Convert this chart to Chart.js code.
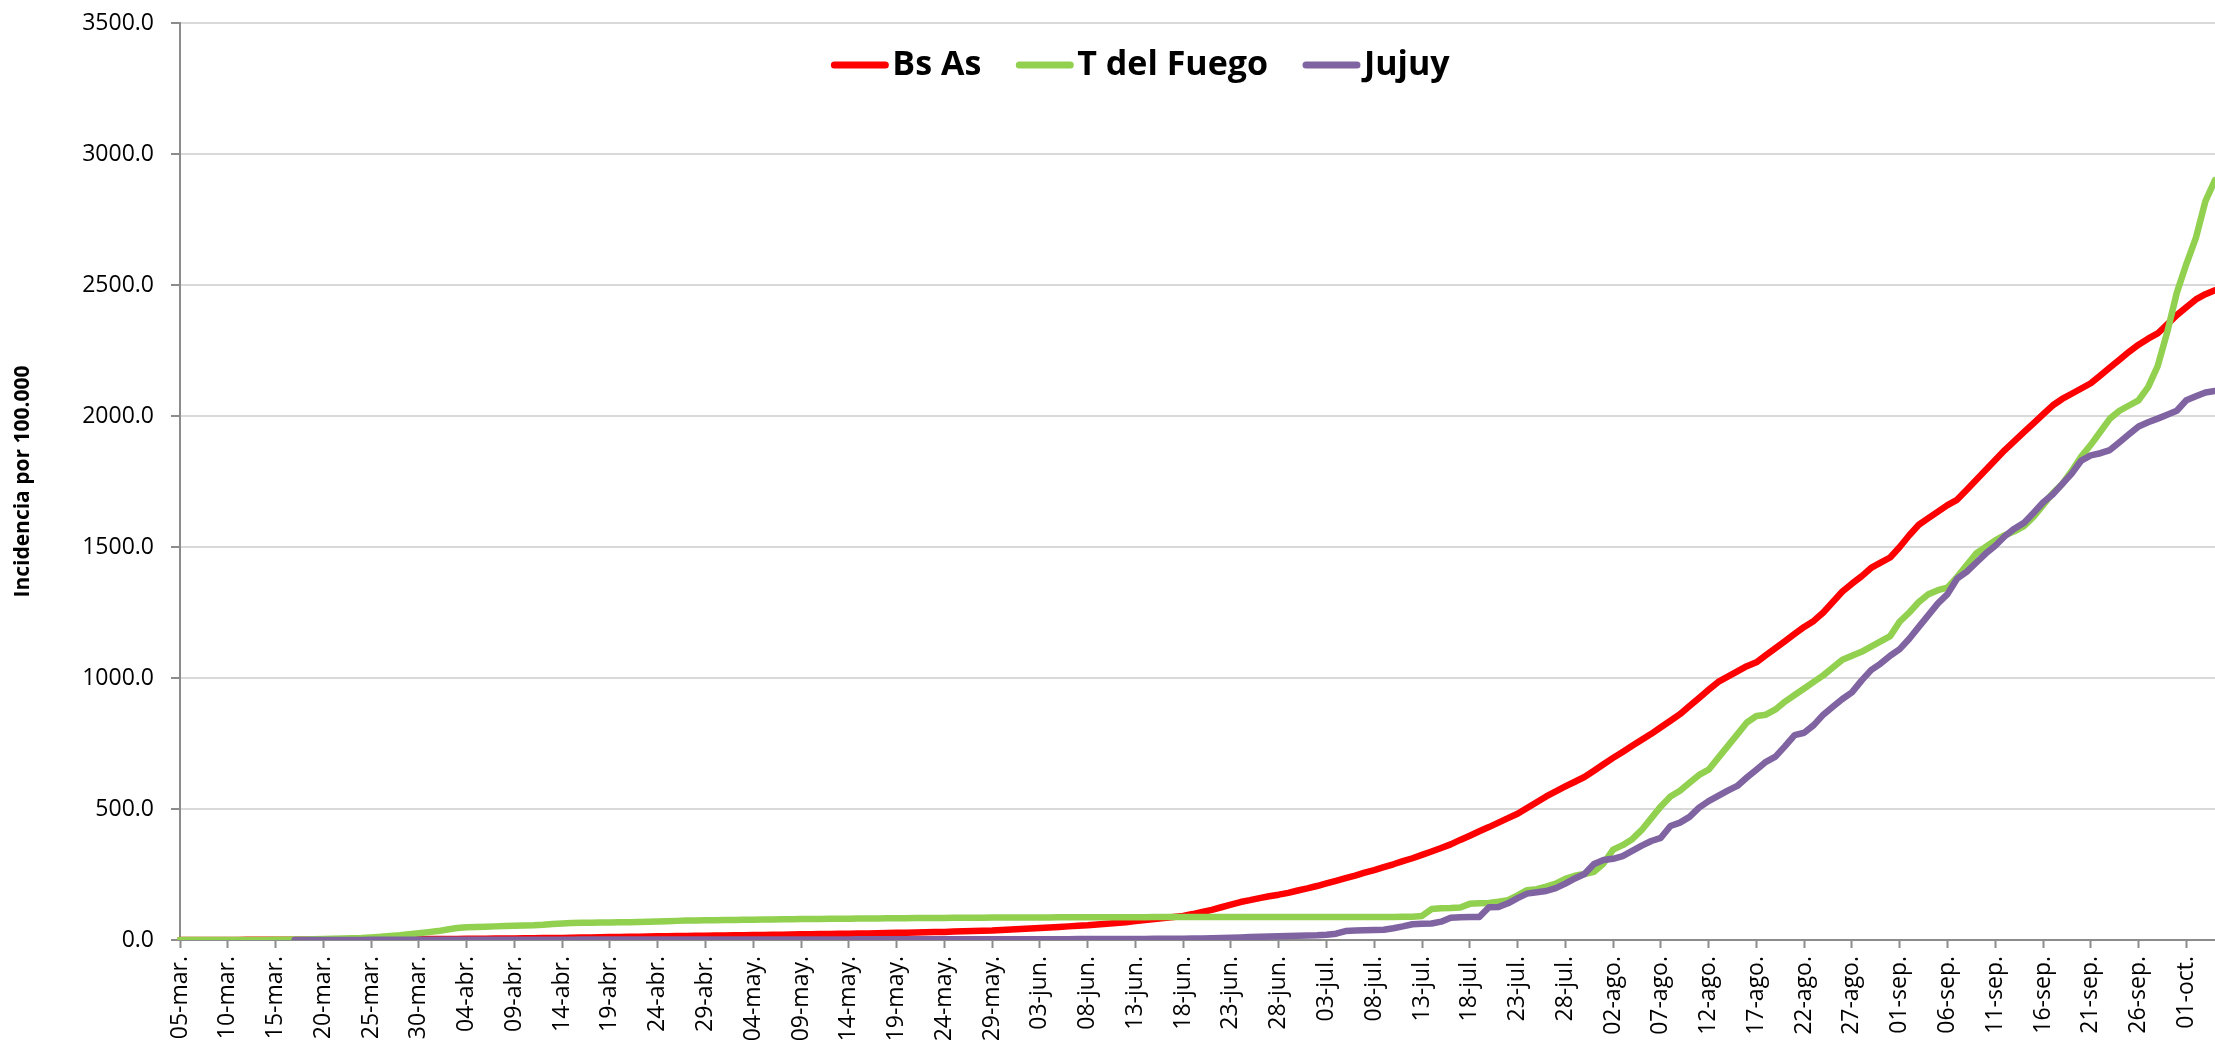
<!DOCTYPE html>
<html>
<head>
<meta charset="utf-8">
<title>Incidencia por 100.000</title>
<script src="https://cdn.jsdelivr.net/npm/chart.js@4.4.0/dist/chart.umd.min.js"></script>
<style>
  html, body { margin: 0; padding: 0; background: #fff; overflow: hidden; }
  #wrap { width: 2215px; height: 1043px; }
</style>
</head>
<body>
<div id="wrap"><canvas id="chart" width="2215" height="1043"></canvas></div>
<script>
// daily categories, 05-mar. .. 04-oct.
const monthAbbr = ['ene', 'feb', 'mar', 'abr', 'may', 'jun', 'jul', 'ago', 'sep', 'oct', 'nov', 'dic'];
const startDay = Date.UTC(2020, 2, 5);
const dayCount = 214;
const dateLabels = [];
for (let i = 0; i < dayCount; i++) {
  const d = new Date(startDay + i * 86400000);
  dateLabels.push(String(d.getUTCDate()).padStart(2, '0') + '-' + monthAbbr[d.getUTCMonth()] + '.');
}

const seriesNames = ['Bs As', 'T del Fuego', 'Jujuy'];
const seriesColors = ['#ff0000', '#92d050', '#8064a2'];

const yTicks = [0, 500, 1000, 1500, 2000, 2500, 3000, 3500];

// values, one per day
const bsAs = [
  0.0, 0.0, 0.1, 0.1, 0.2, 0.3, 0.4, 0.5, 0.6, 0.7,
  0.8, 0.9, 1.0, 1.2, 1.4, 1.5, 1.6, 1.8, 1.9, 2.0,
  2.2, 2.4, 2.6, 2.8, 3.0, 3.2, 3.4, 3.6, 3.8, 4.0,
  4.3, 4.6, 5.0, 5.3, 5.7, 6.0, 6.4, 6.8, 7.2, 7.6,
  8.0, 8.6, 9.2, 9.8, 10.4, 11.0, 11.6, 12.2, 12.8, 13.4,
  14.0, 14.5, 15.0, 15.5, 16.0, 16.5, 17.0, 17.5, 18.0, 18.5,
  19.0, 19.5, 20.0, 20.5, 21.0, 21.5, 22.0, 22.5, 23.0, 23.5,
  24.0, 24.6, 25.2, 25.9, 26.6, 27.3, 28.0, 28.7, 29.5, 30.2,
  31, 32, 33, 34, 35, 36, 38, 40, 42, 44,
  46, 48, 50, 52, 54, 56, 59, 62, 65, 68,
  72, 76, 80, 84, 88, 92, 99, 107, 115, 125,
  135, 145, 152, 160, 167, 173, 180, 189, 197, 206,
  216, 226, 236, 246, 257, 267, 278, 289, 301, 312,
  325, 338, 351, 365, 382, 398, 415, 431, 448, 465,
  482, 504, 526, 548, 567, 586, 604, 622, 646, 671,
  695, 718, 741, 764, 787, 812, 837, 862, 893, 924,
  955, 985, 1005, 1025, 1045, 1060, 1087, 1114, 1141, 1168,
  1195, 1218, 1250, 1290, 1330, 1360, 1388, 1420, 1440, 1460,
  1500, 1545, 1585, 1610, 1635, 1660, 1680, 1718, 1756, 1794,
  1832, 1870, 1904, 1938, 1972, 2006, 2040, 2065, 2085, 2105,
  2125, 2155, 2185, 2215, 2245, 2272, 2295, 2315, 2350, 2385,
  2415, 2445, 2465, 2480
];

const tFuego = [
  0, 0, 0, 0, 0, 0, 0, 0, 0, 0,
  0.5, 1, 1.5, 2, 3, 4, 5, 6, 7, 8,
  10, 12, 15, 18, 22, 26, 30, 34, 40, 46,
  49, 50, 51, 52, 53, 54, 55, 56, 58, 61,
  63, 65, 66, 66, 67, 67, 68, 68, 69, 70,
  71, 72, 73, 74, 74, 75, 75, 76, 76, 77,
  77, 78, 78, 79, 79, 80, 80, 80, 81, 81,
  81, 82, 82, 82, 83, 83, 83, 84, 84, 84,
  84, 85, 85, 85, 85, 86, 86, 86, 86, 86,
  86, 86, 87, 87, 87, 87, 87, 87, 87, 87,
  87, 87, 88, 88, 88, 88, 88, 88, 88, 88,
  88, 88, 88, 88, 88, 88, 88, 88, 88, 88,
  88, 88, 88, 88, 88, 88, 88, 88, 89, 89,
  92, 118, 121, 122, 124, 138, 140, 141, 146, 152,
  170, 190, 194, 204, 215, 233, 245, 252, 260, 292,
  345, 362, 385, 420, 465, 510, 548, 570, 600, 630,
  650, 695, 740, 785, 830, 855, 860, 880, 910, 935,
  960, 985, 1010, 1040, 1070, 1085, 1100, 1120, 1140, 1160,
  1215, 1250, 1290, 1320, 1335, 1345, 1385, 1430, 1475, 1500,
  1525, 1545, 1560, 1580, 1615, 1660, 1705, 1740, 1790, 1845,
  1890, 1940, 1990, 2020, 2040, 2060, 2110, 2190, 2320, 2470,
  2580, 2680, 2820, 2900
];

const jujuy = [
  null, null, null, null, null, null, null, null, null, null,
  null, null, 0, 0, 0, 0, 0, 0, 0, 0,
  0.5, 0.5, 0.5, 0.6, 0.6, 0.7, 0.7, 0.8, 0.8, 0.9,
  1, 1, 1, 1, 1.1, 1.1, 1.2, 1.2, 1.3, 1.3,
  1.4, 1.4, 1.5, 1.5, 1.5, 1.6, 1.6, 1.6, 1.7, 1.7,
  1.7, 1.8, 1.8, 1.8, 1.9, 1.9, 1.9, 2, 2, 2,
  2, 2, 2.1, 2.1, 2.1, 2.2, 2.2, 2.2, 2.3, 2.3,
  2.3, 2.4, 2.4, 2.4, 2.5, 2.5, 2.5, 2.6, 2.6, 2.6,
  2.7, 2.7, 2.8, 2.8, 2.9, 2.9, 3, 3, 3.1, 3.1,
  3.2, 3.2, 3.3, 3.3, 3.4, 3.5, 3.6, 3.7, 3.8, 3.9,
  4, 4.2, 4.4, 4.6, 4.8, 5, 5.5, 6, 6.5, 7.5,
  9, 10, 11, 12, 13, 14, 15, 16, 17, 18,
  20, 24, 34, 36, 37, 38, 39, 45, 52, 60,
  62, 63, 70, 85, 87, 88, 88, 125, 126, 140,
  160, 177, 182, 187, 198, 215, 235, 252, 290, 305,
  310, 320, 340, 360, 378, 390, 435, 448, 470, 505,
  530, 550, 570, 588, 620, 650, 680, 700, 740, 782,
  791, 820, 860, 890, 920, 945, 990, 1030, 1055, 1085,
  1110, 1150, 1195, 1240, 1285, 1320, 1379, 1405, 1440, 1475,
  1505, 1541, 1570, 1592, 1630, 1670, 1700, 1740, 1780, 1830,
  1850, 1858, 1870, 1900, 1930, 1960, 1976, 1990, 2005, 2020,
  2060, 2075, 2090, 2096
];

const seriesValues = [bsAs, tFuego, jujuy];

// legend drawn inside the plot, near the top
const topLegend = {
  id: 'topLegend',
  afterDatasetsDraw(chart) {
    const ctx = chart.ctx;
    const area = chart.chartArea;
    const lineLen = 57, textGap = 4, itemGap = 35;
    ctx.save();
    ctx.font = 'bold 34px "Open Sans"';
    const widths = chart.data.datasets.map(ds => ctx.measureText(ds.label).width);
    const total = widths.reduce((s, w) => s + lineLen + textGap + w, 0) + itemGap * (widths.length - 1);
    let x = (area.left + area.right) / 2 - 57 - total / 2;
    const y = area.top + 42;
    chart.data.datasets.forEach((ds, i) => {
      ctx.strokeStyle = ds.borderColor;
      ctx.lineWidth = 7;
      ctx.lineCap = 'round';
      ctx.beginPath();
      ctx.moveTo(x + 3, y);
      ctx.lineTo(x + lineLen - 3, y);
      ctx.stroke();
      x += lineLen + textGap;
      ctx.fillStyle = '#000';
      ctx.textAlign = 'left';
      ctx.textBaseline = 'middle';
      ctx.fillText(ds.label, x, y);
      x += widths[i] + itemGap;
    });
    ctx.restore();
  }
};

const datasets = seriesNames.map((name, i) => ({
  label: name,
  data: seriesValues[i],
  borderColor: seriesColors[i],
  backgroundColor: seriesColors[i],
  borderWidth: 6.5,
  borderCapStyle: 'round',
  borderJoinStyle: 'round',
  pointRadius: 0,
  tension: 0,
  spanGaps: true,
  order: seriesNames.length - i  // later series on top, like the original
}));

new Chart(document.getElementById('chart'), {
  type: 'line',
  data: { labels: dateLabels, datasets: datasets },
  options: {
    responsive: false,
    animation: false,
    layout: { padding: { top: 23, right: 0, bottom: 0, left: 0 } },
    plugins: {
      legend: { display: false },
      tooltip: { enabled: false }
    },
    scales: {
      x: {
        offset: false,
        border: { color: '#8c8c8c', width: 2 },
        grid: {
          drawOnChartArea: false,
          drawTicks: true,
          tickLength: 8,
          tickWidth: 2,
          tickColor: ctx => (ctx.index % 5 === 0 ? '#8c8c8c' : 'rgba(0,0,0,0)')
        },
        ticks: {
          autoSkip: false,
          maxRotation: 90,
          minRotation: 90,
          padding: 8,
          color: '#000',
          font: { family: 'Open Sans', size: 23 },
          callback: function (value, index) {
            return index % 5 === 0 ? this.getLabelForValue(value) : '';
          }
        },
        afterFit(scale) {
          scale.height = 103;
          scale.paddingLeft = 0;
          scale.paddingRight = 0;
        }
      },
      y: {
        min: yTicks[0],
        max: yTicks[yTicks.length - 1],
        border: { color: '#8c8c8c', width: 2 },
        grid: {
          color: '#d9d9d9',
          lineWidth: 2,
          tickLength: 9,
          tickColor: '#8c8c8c',
          tickWidth: 2
        },
        afterBuildTicks(scale) {
          scale.ticks = yTicks.map(v => ({ value: v }));
        },
        ticks: {
          padding: 17,
          color: '#000',
          font: { family: 'Open Sans', size: 23 },
          callback: v => Number(v).toFixed(1)
        },
        title: {
          display: true,
          text: 'Incidencia por 100.000',
          color: '#000',
          font: { family: 'Open Sans', size: 21, weight: 'bold' },
          padding: { top: 10, bottom: 0 }
        },
        afterFit(scale) {
          scale.width = 180;
          scale.paddingTop = 0;
          scale.paddingBottom = 0;
        }
      }
    }
  },
  plugins: [topLegend]
});
</script>
</body>
</html>
